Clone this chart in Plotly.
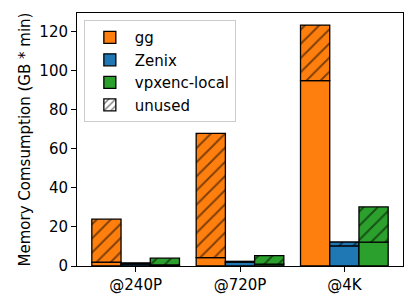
import plotly.graph_objects as go

categories = ["@240P", "@720P", "@4K"]
systems = ["gg", "Zenix", "vpxenc-local"]
colors = ["#ff7f0e", "#1f77b4", "#2ca02c"]
used = {
    "gg": [2.0, 4.3, 95.0],
    "Zenix": [1.0, 2.0, 10.3],
    "vpxenc-local": [0.5, 1.0, 12.2],
}
total = {
    "gg": [24.0, 68.0, 123.5],
    "Zenix": [1.6, 2.4, 12.3],
    "vpxenc-local": [4.0, 5.3, 30.3],
}

bar_w = 0.28
fig = go.Figure()
for i, (s, c) in enumerate(zip(systems, colors)):
    xs = [k + (i - 1) * bar_w for k in range(len(categories))]
    fig.add_trace(go.Bar(
        x=xs, y=used[s], base=[0] * len(xs), width=bar_w, name=s,
        marker=dict(color=c, line=dict(color="black", width=1.3)),
        legendrank=i,
    ))
    fig.add_trace(go.Bar(
        x=xs, y=[t - u for t, u in zip(total[s], used[s])], base=used[s], width=bar_w,
        showlegend=False,
        marker=dict(color=c, line=dict(color="black", width=1.3),
                    pattern=dict(shape="/", fgcolor="black", bgcolor=c, size=10, solidity=0.2)),
    ))
fig.add_trace(go.Bar(
    x=[None], y=[None], name="unused", legendrank=10,
    marker=dict(color="white", line=dict(color="black", width=1.3),
                pattern=dict(shape="/", fgcolor="black", bgcolor="white", size=6, solidity=0.3)),
))

fig.update_layout(
    width=408, height=298,
    margin=dict(l=69, r=13, t=5, b=40),
    barmode="overlay",
    plot_bgcolor="white", paper_bgcolor="white",
    font=dict(family="DejaVu Sans", size=15, color="black"),
    showlegend=True,
    legend=dict(x=0.021, y=0.972, xanchor="left", yanchor="top",
                bordercolor="#cccccc", borderwidth=1, bgcolor="rgba(255,255,255,0.8)",
                font=dict(size=15), tracegroupgap=0, itemwidth=40),
    xaxis=dict(range=[-0.562, 2.562], tickvals=list(range(len(categories))), ticktext=categories,
               showline=True, linecolor="black", linewidth=1, mirror=True,
               ticks="outside", ticklen=5, tickcolor="black", showgrid=False, zeroline=False),
    yaxis=dict(range=[0, 129.7], tickvals=[0, 20, 40, 60, 80, 100, 120],
               title=dict(text="Memory Comsumption (GB * min)", font=dict(size=15), standoff=5),
               showline=True, linecolor="black", linewidth=1, mirror=True,
               ticks="outside", ticklen=5, tickcolor="black", showgrid=False, zeroline=False),
)
fig.write_html("out.html")
